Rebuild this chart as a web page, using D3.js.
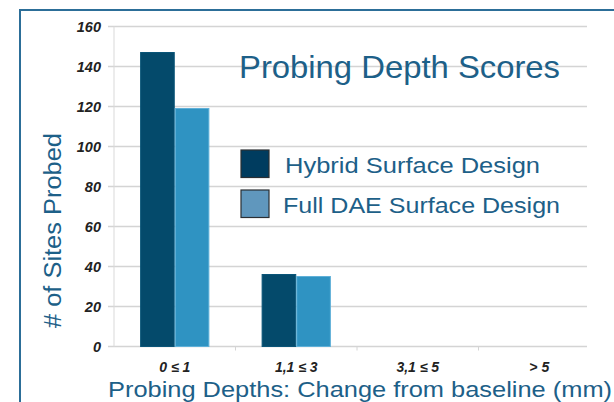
<!DOCTYPE html>
<html>
<head>
<meta charset="utf-8">
<script src="https://cdn.jsdelivr.net/npm/d3@7"></script>
<style>
  body { margin: 0; background: #fff; }
  svg { display: block; font-family: "Liberation Sans", Arial, sans-serif; }
</style>
</head>
<body>
<svg id="chart" width="614" height="402"></svg>
<script>
// Data
const categories = ["0 \u2264 1", "1,1 \u2264 3", "3,1 \u2264 5", "> 5"];
const seriesNames = ["Hybrid Surface Design", "Full DAE Surface Design"];
const hybridValues = [147, 36, 0, 0];
const fullDaeValues = [119, 35, 0, 0];
const yTicks = [0, 20, 40, 60, 80, 100, 120, 140, 160];

const barColours = ["#044a6b", "#2f93c2"];
const barEdges = ["#0a5578", "#5fb0d8"];
const swatchColours = ["#003c5f", "#6097bd"];
const textBlue = "#1d6088";

const svg = d3.select("#chart");
const margin = { top: 26.5, left: 114, bottom: 55.5 };
const width = 600 - margin.left;
const height = 402 - margin.top - margin.bottom;
const gridRight = 587 - margin.left;

// Outer frame (only top and left edges are inside the picture)
svg.append("path")
  .attr("d", "M20,402 V10 H614")
  .attr("fill", "none")
  .attr("stroke", "#2c6e98")
  .attr("stroke-width", 2);

const chart = svg.append("g")
  .attr("transform", `translate(${margin.left},${margin.top})`);

const x0 = d3.scaleBand()
  .domain(categories)
  .range([0, width])
  .paddingInner(0.43)
  .paddingOuter(0.215);

const x1 = d3.scaleBand()
  .domain(seriesNames)
  .range([0, x0.bandwidth()]);

const yScale = d3.scaleLinear()
  .domain([0, 160])
  .range([height, 0]);

// Gridlines
chart.append("g")
  .selectAll("line")
  .data(yTicks)
  .join("line")
    .attr("x1", -6)
    .attr("x2", gridRight)
    .attr("y1", d => yScale(d))
    .attr("y2", d => yScale(d))
    .attr("stroke", "#d4d4d4")
    .attr("stroke-width", 1.3);

// Y axis
const yAxisG = chart.append("g")
  .call(d3.axisLeft(yScale).tickValues(yTicks).tickSize(0).tickPadding(13));
yAxisG.select(".domain").attr("stroke", "#d9d9d9").attr("d", `M0,${height}V0`);
yAxisG.selectAll("text")
  .attr("font-size", 14.5)
  .attr("font-weight", "bold")
  .attr("font-style", "italic")
  .attr("fill", "#222");

// X axis
const xAxisG = chart.append("g")
  .attr("transform", `translate(0,${height})`)
  .call(d3.axisBottom(x0).tickSize(0).tickPadding(16));
xAxisG.select(".domain").remove();
xAxisG.selectAll("text")
  .attr("font-size", 14)
  .attr("font-weight", "bold")
  .attr("font-style", "italic")
  .attr("fill", "#222");
// small separators between categories
chart.append("g")
  .selectAll("line")
  .data(categories.slice(1))
  .join("line")
    .attr("x1", d => x0(d) - x0.step() * 0.215)
    .attr("x2", d => x0(d) - x0.step() * 0.215)
    .attr("y1", height)
    .attr("y2", height + 4)
    .attr("stroke", "#d4d4d4");

// Bars
const rows = categories.map((c, i) => ({
  category: c,
  values: [
    { name: seriesNames[0], value: hybridValues[i], idx: 0 },
    { name: seriesNames[1], value: fullDaeValues[i], idx: 1 }
  ]
}));

chart.append("g")
  .selectAll("g")
  .data(rows)
  .join("g")
    .attr("transform", d => `translate(${x0(d.category)},0)`)
  .selectAll("rect")
  .data(d => d.values.filter(v => v.value > 0))
  .join("rect")
    .attr("x", d => x1(d.name) + 0.5)
    .attr("y", d => yScale(d.value))
    .attr("width", x1.bandwidth() - 1)
    .attr("height", d => height - yScale(d.value))
    .attr("fill", d => barColours[d.idx])
    .attr("stroke", d => barEdges[d.idx])
    .attr("stroke-width", 1);

// Title
svg.append("text")
  .attr("x", 239)
  .attr("y", 78)
  .attr("font-size", 31.5)
  .attr("fill", textBlue)
  .attr("textLength", 321)
  .attr("lengthAdjust", "spacingAndGlyphs")
  .text("Probing Depth Scores");

// Legend
const legendLengths = [255, 277];
const legend = svg.append("g")
  .selectAll("g")
  .data(seriesNames)
  .join("g")
    .attr("transform", (d, i) => `translate(241,${150 + i * 40})`);
legend.append("rect")
  .attr("width", 28)
  .attr("height", 27.5)
  .attr("fill", (d, i) => swatchColours[i])
  .attr("stroke", "#2b2f33")
  .attr("stroke-width", 1.2);
legend.append("text")
  .attr("x", (d, i) => i === 0 ? 44 : 42)
  .attr("y", 23)
  .attr("font-size", 22.5)
  .attr("fill", textBlue)
  .attr("textLength", (d, i) => legendLengths[i])
  .attr("lengthAdjust", "spacingAndGlyphs")
  .text(d => d);

// Axis titles
svg.append("text")
  .attr("transform", "translate(61,230.5) rotate(-90)")
  .attr("text-anchor", "middle")
  .attr("font-size", 23)
  .attr("fill", textBlue)
  .attr("textLength", 195)
  .attr("lengthAdjust", "spacingAndGlyphs")
  .text("# of Sites Probed");

svg.append("text")
  .attr("x", 108)
  .attr("y", 397)
  .attr("font-size", 22)
  .attr("fill", textBlue)
  .attr("textLength", 504)
  .attr("lengthAdjust", "spacingAndGlyphs")
  .text("Probing Depths: Change from baseline (mm)");
</script>
</body>
</html>
